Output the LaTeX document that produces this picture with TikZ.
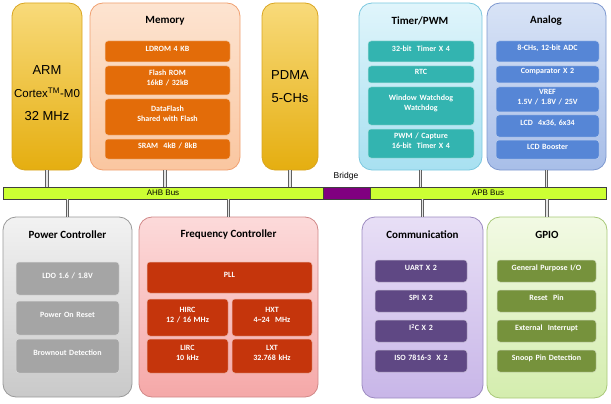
\documentclass[tikz,border=0pt]{standalone}
\usepackage{fontspec}
\setmainfont{Carlito}
\newfontfamily\arialf{Liberation Sans}
\usetikzlibrary{fit}
\definecolor{armT}{HTML}{F8DA7A}\definecolor{armB}{HTML}{E5AE10}\definecolor{armD}{HTML}{D9A520}
\definecolor{memT}{HTML}{FDE4D1}\definecolor{memB}{HTML}{FAC6A0}\definecolor{memD}{HTML}{F0A070}\definecolor{memI}{HTML}{E36C09}
\definecolor{timT}{HTML}{E0F5FB}\definecolor{timB}{HTML}{A8E0F1}\definecolor{timD}{HTML}{7CC8DF}\definecolor{timI}{HTML}{33B4B0}
\definecolor{anaT}{HTML}{D8E3F6}\definecolor{anaB}{HTML}{A8BEE8}\definecolor{anaD}{HTML}{7D98CF}\definecolor{anaI}{HTML}{5686D6}
\definecolor{pwrT}{HTML}{F2F2F2}\definecolor{pwrB}{HTML}{C9C9C9}\definecolor{pwrD}{HTML}{9A9A9A}\definecolor{pwrI}{HTML}{A5A5A5}
\definecolor{frqT}{HTML}{FCDADA}\definecolor{frqB}{HTML}{F5A8A8}\definecolor{frqD}{HTML}{D08888}\definecolor{frqI}{HTML}{C5350C}
\definecolor{comT}{HTML}{E8DFF6}\definecolor{comB}{HTML}{C8B6E8}\definecolor{comD}{HTML}{9C8AC0}\definecolor{comI}{HTML}{5F4884}
\definecolor{gpiT}{HTML}{F2FAE4}\definecolor{gpiB}{HTML}{D4EDAE}\definecolor{gpiD}{HTML}{A8C878}\definecolor{gpiI}{HTML}{76923C}
\definecolor{busC}{HTML}{CCFF33}\definecolor{brgC}{HTML}{800080}
\newcommand\blk[7]{\node[#1, fit={(#3,#4) (#5,#6)}, inner sep=0pt, align=center] (#2) {#7};}
\begin{document}
\begin{tikzpicture}[x=1pt,y=-1pt,
  outer/.style={rounded corners=13pt, line width=0.8pt},
  inner/.style={rounded corners=3pt, line width=0.5pt, draw=white!60!#1, fill=#1, text=white,
     font=\fontsize{8}{10}\selectfont\bfseries},
  title/.style={font=\fontsize{11}{13}\selectfont\bfseries, text=black},
  big/.style={font=\arialf\fontsize{13}{23}\selectfont, align=center},
  bus/.style={draw=black!75, line width=0.6pt},
  buslbl/.style={font=\arialf\fontsize{8}{9}\selectfont},
  conn/.style={draw=gray!75!black, double=white!80!gray, double distance=1.8pt, line width=0.9pt}]
\useasboundingbox (0,0) rectangle (611,404);
% top row
\blk{outer, draw=armD, top color=armT, bottom color=armB}{arm}{12}{3}{82}{170}{}
\node[big] (armtxt) at (47,93) {ARM\\{\fontsize{11.5}{23}\selectfont Cortex\textsuperscript{TM}-M0}\\32 MHz};
\blk{outer, draw=memD, top color=memT, bottom color=memB}{mem}{90}{3}{240}{170}{}
\node[title] (memt) at (165,21) {Memory};
\blk{inner=memI}{ldrom}{105}{41}{230}{62}{LDROM 4 KB}
\blk{inner=memI}{flash}{105}{66}{230}{95}{Flash ROM\\16kB / 32kB}
\blk{inner=memI}{dflash}{105}{99}{230}{135}{DataFlash\\Shared with Flash}
\blk{inner=memI}{sram}{105}{139}{230}{159}{SRAM\ \ 4kB / 8kB}
\blk{outer, draw=armD, top color=armT, bottom color=armB}{pdma}{262}{3}{318}{170}{}
\node[big] (pdmatxt) at (290,87) {PDMA\\5-CHs};
\blk{outer, draw=timD, top color=timT, bottom color=timB}{tim}{359}{3}{482}{170}{}
\node[title] (timt) at (420,21) {Timer/PWM};
\blk{inner=timI}{t32}{368}{41}{474}{62}{32-bit\ \ Timer X 4}
\blk{inner=timI}{rtc}{368}{66}{474}{83}{RTC}
\blk{inner=timI}{wdt}{368}{87}{474}{125}{Window Watchdog\\Watchdog}
\blk{inner=timI}{pwm}{368}{129}{474}{158}{PWM / Capture\\16-bit\ \ Timer X 4}
\blk{outer, draw=anaD, top color=anaT, bottom color=anaB}{ana}{487}{3}{606}{170}{}
\node[title] (anat) at (546,21) {Analog};
\blk{inner=anaI}{adc}{496}{41}{599}{62}{8-CHs, 12-bit ADC}
\blk{inner=anaI}{cmp}{496}{66}{599}{83}{Comparator X 2}
\blk{inner=anaI}{vref}{496}{87}{599}{112}{VREF\\1.5V / 1.8V / 25V}
\blk{inner=anaI}{lcd}{496}{115}{599}{137}{LCD\ \ 4x36, 6x34}
\blk{inner=anaI}{lcdb}{496}{140}{599}{159}{LCD Booster}
% bus
\node[bus, fill=busC, fit={(3,187) (323,199)}, inner sep=0pt] (ahb) {};
\node[buslbl] (ahbt) at (ahb.center) {AHB Bus};
\node[bus, fill=brgC, fit={(323,187) (370,199)}, inner sep=0pt] (brg) {};
\node[bus, fill=busC, fit={(370,187) (606,199)}, inner sep=0pt] (apb) {};
\node[buslbl] (apbt) at (apb.center) {APB Bus};
\node[font=\arialf\fontsize{8.5}{10}\selectfont] (brgt) at (346,176) {Bridge};
% bottom row
\blk{outer, draw=pwrD, top color=pwrT, bottom color=pwrB}{pwr}{3}{217}{132}{397}{}
\node[title] (pwrt) at (67.5,235) {Power Controller};
\blk{inner=pwrI}{ldo}{16}{262}{119}{295}{LDO 1.6 / 1.8V}
\blk{inner=pwrI}{por}{16}{301}{119}{335}{Power On Reset}
\blk{inner=pwrI}{bod}{16}{339}{119}{373}{Brownout Detection}
\blk{outer, draw=frqD, top color=frqT, bottom color=frqB}{frq}{139}{217}{318}{397}{}
\node[title] (frqt) at (228.5,235) {Frequency Controller};
\blk{inner=frqI}{pll}{147}{262}{312}{293}{PLL}
\blk{inner=frqI}{hirc}{147}{299}{228}{336}{HIRC\\12 / 16 MHz}
\blk{inner=frqI}{hxt}{232}{299}{312}{336}{HXT\\4\char`\~24\ \ MHz}
\blk{inner=frqI}{lirc}{147}{339}{228}{373}{LIRC\\10 kHz}
\blk{inner=frqI}{lxt}{232}{339}{312}{373}{LXT\\32.768 kHz}
\blk{outer, draw=comD, top color=comT, bottom color=comB}{com}{362}{217}{483}{398}{}
\node[title] (comt) at (422.5,235) {Communication};
\blk{inner=comI}{uart}{375}{260}{467}{282}{UART X 2}
\blk{inner=comI}{spi}{375}{290}{467}{312}{SPI X 2}
\blk{inner=comI}{iic}{375}{320}{467}{342}{I\textsuperscript{2}C X 2}
\blk{inner=comI}{iso}{375}{350}{467}{372}{ISO 7816-3\ \ X 2}
\blk{outer, draw=gpiD, top color=gpiT, bottom color=gpiB}{gpi}{487}{217}{607}{398}{}
\node[title] (gpit) at (547,235) {GPIO};
\blk{inner=gpiI}{gpo}{497}{260}{596}{282}{General Purpose I/O}
\blk{inner=gpiI}{rst}{497}{290}{596}{312}{Reset\ \ Pin}
\blk{inner=gpiI}{eint}{497}{320}{596}{342}{External\ \ Interrupt}
\blk{inner=gpiI}{snp}{497}{350}{596}{372}{Snoop Pin Detection}
% connectors
\draw[conn] (arm.south) -- (arm.south |- ahb.north);
\draw[conn] (mem.south) -- (mem.south |- ahb.north);
\draw[conn] (pdma.south) -- (pdma.south |- ahb.north);
\draw[conn] (tim.south) -- (tim.south |- apb.north);
\draw[conn] (ana.south) -- (ana.south |- apb.north);
\draw[conn] (pwr.north) -- (pwr.north |- ahb.south);
\draw[conn] (frq.north) -- (frq.north |- ahb.south);
\draw[conn] (com.north) -- (com.north |- apb.south);
\draw[conn] (gpi.north) -- (gpi.north |- apb.south);
\end{tikzpicture}
\end{document}
